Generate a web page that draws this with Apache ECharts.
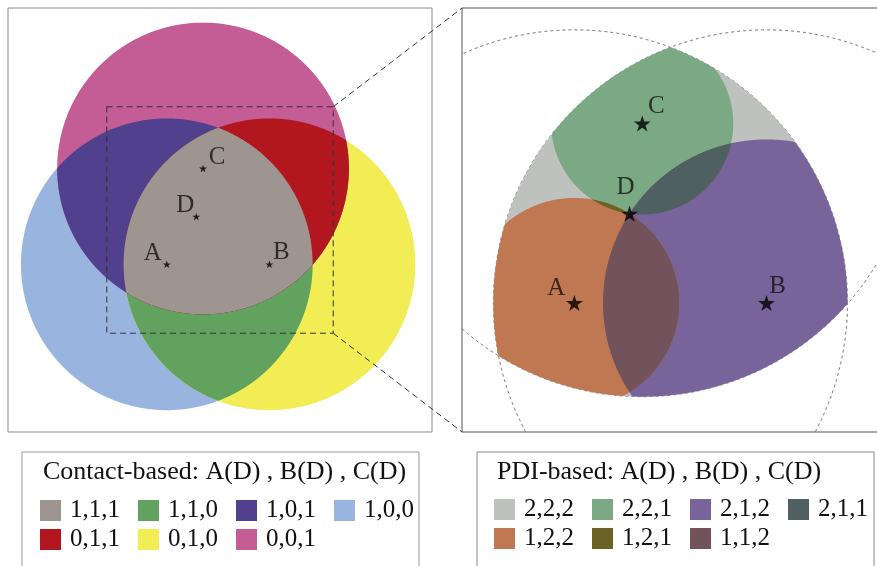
<!DOCTYPE html>
<html><head><meta charset="utf-8">
<script src="https://cdn.jsdelivr.net/npm/echarts@6/dist/echarts.min.js"></script>
<style>html,body{margin:0;padding:0;background:#fff}#c{width:877px;height:566px}</style>
</head><body><div id="c"></div>
<script>
// ---- data ----
const pointNames = ['A', 'B', 'C', 'D'];
const pointX = [37.45, 61.65, 46.0, 44.4];
const pointY = [39.55, 39.55, 62.15, 50.8];
const contactRadius = 34.4;
const zoomWindow = [23.3, 76.7];
const contactNames = ['1,1,1', '1,1,0', '1,0,1', '1,0,0', '0,1,1', '0,1,0', '0,0,1'];
const contactColors = ['#9E9590', '#60A25E', '#51408D', '#98B4DF', '#B2171F', '#F2EC55', '#C45C95'];
const pdiNames = ['2,2,2', '2,2,1', '2,1,2', '2,1,1', '1,2,2', '1,2,1', '1,1,2'];
const pdiColors = ['#BFC1BF', '#7AA983', '#78639B', '#505F60', '#BF7852', '#6B6326', '#72535C'];
const contactTitle = 'Contact-based: A(D) , B(D) , C(D)';
const pdiTitle = 'PDI-based: A(D) , B(D) , C(D)';

// ---- geometry helpers ----
const FONT = "'Liberation Serif','DejaVu Serif',serif";
const iD = pointNames.indexOf('D');
const bigCircles = [0, 1, 2].map(i => [pointX[i], pointY[i], contactRadius]);
const pdiCircles = [0, 1, 2].map(i => [pointX[i], pointY[i], Math.hypot(pointX[i] - pointX[iD], pointY[i] - pointY[iD])]);

function inside(p, c, eps) { return Math.hypot(p[0] - c[0], p[1] - c[1]) <= c[2] + eps; }
function circleX(a, b) {
  const dx = b[0] - a[0], dy = b[1] - a[1], d = Math.hypot(dx, dy);
  if (d > a[2] + b[2] || d < Math.abs(a[2] - b[2]) || d === 0) return [];
  const l = (a[2] * a[2] - b[2] * b[2] + d * d) / (2 * d);
  const h = Math.sqrt(Math.max(0, a[2] * a[2] - l * l));
  const mx = a[0] + l * dx / d, my = a[1] + l * dy / d;
  return [[mx + h * dy / d, my - h * dx / d], [mx - h * dy / d, my + h * dx / d]];
}
function intersection(circles, n) {
  n = n || 1440;
  const pts = [];
  circles.forEach((c, i) => {
    for (let k = 0; k < n; k++) {
      const t = 2 * Math.PI * k / n;
      const p = [c[0] + c[2] * Math.cos(t), c[1] + c[2] * Math.sin(t)];
      if (circles.every((d, j) => j === i || inside(p, d, 1e-9))) pts.push(p);
    }
  });
  for (let i = 0; i < circles.length; i++) for (let j = i + 1; j < circles.length; j++) {
    circleX(circles[i], circles[j]).forEach(p => { if (circles.every(d => inside(p, d, 1e-7))) pts.push(p); });
  }
  if (pts.length < 3) return null;
  let cx = 0, cy = 0; pts.forEach(p => { cx += p[0]; cy += p[1]; }); cx /= pts.length; cy /= pts.length;
  pts.sort((a, b) => Math.atan2(a[1] - cy, a[0] - cx) - Math.atan2(b[1] - cy, b[0] - cx));
  return pts;
}
function countOnes(name) { return name.split(',').filter(v => v === '1').length; }

// ---- series ----
const series = [];
let z = 1;
// Left panel regions (painted singles -> pairs -> triple)
contactNames.map((n, i) => i).sort((a, b) => countOnes(contactNames[a]) - countOnes(contactNames[b])).forEach(i => {
  const name = contactNames[i];
  const circles = name.split(',').map((v, k) => v === '1' ? bigCircles[k] : null).filter(Boolean);
  const poly = intersection(circles);
  series.push({
    type: 'custom', name: name, xAxisIndex: 0, yAxisIndex: 0, z: z++,
    itemStyle: { color: contactColors[i] }, data: [[50, 50]], silent: true,
    renderItem: (params, api) => ({ type: 'polygon', shape: { points: poly.map(p => api.coord(p)) }, style: { fill: contactColors[i] } })
  });
});
// Left panel dashed zoom window
series.push({
  type: 'custom', xAxisIndex: 0, yAxisIndex: 0, z: 50, data: [[50, 50]], silent: true,
  renderItem: (params, api) => {
    const a = api.coord([zoomWindow[0], zoomWindow[1]]), b = api.coord([zoomWindow[1], zoomWindow[0]]);
    return { type: 'rect', shape: { x: a[0], y: a[1], width: b[0] - a[0], height: b[1] - a[1] },
      style: { fill: 'none', stroke: '#333', lineWidth: 1, lineDash: [6, 4] } };
  }
});
// Right panel dashed contact circles (clipped to the zoom window)
series.push({
  type: 'custom', xAxisIndex: 1, yAxisIndex: 1, z: 1, data: [[50, 50]], silent: true,
  renderItem: (params, api) => {
    const children = [];
    bigCircles.forEach(c => {
      const n = 3000; let run = [];
      const flush = () => { if (run.length > 1) children.push({ type: 'polyline', shape: { points: run.map(p => api.coord(p)) }, style: { fill: 'none', stroke: '#555', lineWidth: 0.9, lineDash: [3, 3] } }); run = []; };
      for (let k = 0; k <= n; k++) {
        const t = 2 * Math.PI * k / n;
        const p = [c[0] + c[2] * Math.cos(t), c[1] + c[2] * Math.sin(t)];
        if (p[0] >= zoomWindow[0] && p[0] <= zoomWindow[1] && p[1] >= zoomWindow[0] && p[1] <= zoomWindow[1]) run.push(p); else flush();
      }
      flush();
    });
    return { type: 'group', children };
  }
});
// Right panel regions: outer = all contact circles; add PDI circles where digit is '1'
pdiNames.map((n, i) => i).sort((a, b) => countOnes(pdiNames[a]) - countOnes(pdiNames[b])).forEach(i => {
  const name = pdiNames[i];
  const circles = bigCircles.concat(name.split(',').map((v, k) => v === '1' ? pdiCircles[k] : null).filter(Boolean));
  const poly = intersection(circles, 2000);
  series.push({
    type: 'custom', name: name, xAxisIndex: 1, yAxisIndex: 1, z: z++,
    itemStyle: { color: pdiColors[i] }, data: [[50, 50]], silent: true,
    renderItem: (params, api) => poly ? ({ type: 'polygon', shape: { points: poly.map(p => api.coord(p)) }, style: { fill: pdiColors[i] } }) : null
  });
});
// Stars and labels
const leftOffsets = { A: [-14, -11], B: [12, -12], C: [14, -11], D: [-11, -11] };
const rightOffsets = { A: [-18, -15], B: [11, -17], C: [14, -17], D: [-4, -26] };
[[0, 8, leftOffsets], [1, 17, rightOffsets]].forEach(([g, size, offs]) => {
  series.push({
    type: 'scatter', xAxisIndex: g, yAxisIndex: g, z: 100, silent: true,
    symbol: 'path://M50,0L61.2,34.5L97.6,34.5L68.2,55.9L79.4,90.5L50,69.1L20.6,90.5L31.8,55.9L2.4,34.5L38.8,34.5Z',
    symbolSize: size, symbolKeepAspect: true, itemStyle: { color: '#000' },
    data: pointNames.map((n, i) => ({ name: n, value: [pointX[i], pointY[i]], label: { offset: offs[n] } })),
    label: { show: true, formatter: '{b}', position: 'inside', align: 'center', verticalAlign: 'middle',
      fontSize: 25, fontFamily: FONT, color: '#111' }
  });
});

function legendRow(names, left, top) {
  return { data: names, left: left, top: top, orient: 'horizontal', icon: 'rect', itemWidth: 21, itemHeight: 21,
    itemGap: 18, selectedMode: false, padding: 0,
    textStyle: { fontSize: 25, fontFamily: FONT, color: '#111', lineHeight: 21, padding: [0, 0, 0, 4] },
    itemStyle: { borderWidth: 0 } };
}

const option = {
  animation: false,
  grid: [
    { left: 8, top: 8, width: 424, height: 424, show: true, borderColor: '#888', borderWidth: 1, outerBoundsMode: 'none' },
    { left: 462, top: 8, width: 424, height: 424, show: true, borderColor: '#555', borderWidth: 1, outerBoundsMode: 'none' }
  ],
  xAxis: [
    { type: 'value', gridIndex: 0, min: 0, max: 100, show: false },
    { type: 'value', gridIndex: 1, min: zoomWindow[0], max: zoomWindow[1], show: false }
  ],
  yAxis: [
    { type: 'value', gridIndex: 0, min: 0, max: 100, show: false },
    { type: 'value', gridIndex: 1, min: zoomWindow[0], max: zoomWindow[1], show: false }
  ],
  legend: [
    legendRow(contactNames.slice(0, 4), 40, 498),
    legendRow(contactNames.slice(4), 40, 527),
    legendRow(pdiNames.slice(0, 4), 494, 497),
    legendRow(pdiNames.slice(4), 494, 526)
  ],
  series: series
};
const chart = echarts.init(document.getElementById('c'), null, { renderer: 'canvas' });
chart.setOption(option);

const pTop = chart.convertToPixel({ gridIndex: 0 }, [zoomWindow[1], zoomWindow[1]]);
const pBot = chart.convertToPixel({ gridIndex: 0 }, [zoomWindow[1], zoomWindow[0]]);
const qTop = chart.convertToPixel({ gridIndex: 1 }, [zoomWindow[0], zoomWindow[1]]);
const qBot = chart.convertToPixel({ gridIndex: 1 }, [zoomWindow[0], zoomWindow[0]]);
const dashStyle = { stroke: '#333', lineWidth: 1, lineDash: [6, 4] };
chart.setOption({
  graphic: [
    { type: 'line', z: 60, shape: { x1: pTop[0], y1: pTop[1], x2: qTop[0], y2: qTop[1] }, style: dashStyle, silent: true },
    { type: 'line', z: 60, shape: { x1: pBot[0], y1: pBot[1], x2: qBot[0], y2: qBot[1] }, style: dashStyle, silent: true },
    { type: 'rect', shape: { x: 22, y: 452, width: 397, height: 200 }, style: { fill: 'none', stroke: '#999', lineWidth: 1 }, silent: true },
    { type: 'rect', shape: { x: 477, y: 452, width: 397, height: 200 }, style: { fill: 'none', stroke: '#888', lineWidth: 1 }, silent: true },
    { type: 'text', x: 43, y: 472, style: { text: contactTitle, font: '26px ' + FONT, fill: '#111', verticalAlign: 'middle' }, silent: true },
    { type: 'text', x: 497, y: 472, style: { text: pdiTitle, font: '26px ' + FONT, fill: '#111', verticalAlign: 'middle' }, silent: true }
  ]
});
</script></body></html>
